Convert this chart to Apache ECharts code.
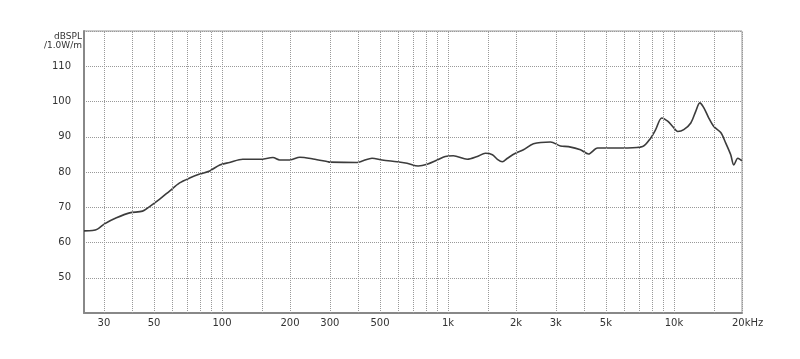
<!DOCTYPE html>
<html>
<head>
<meta charset="utf-8">
<script src="https://cdn.jsdelivr.net/npm/echarts@6/dist/echarts.min.js"></script>
<style>
html,body{margin:0;padding:0;background:#fff;}
#chart{width:800px;height:359px;}
</style>
</head>
<body>
<div id="chart"></div>
<script>
// Frequency response (Hz, dBSPL)
const freqs = [24.5, 26.7, 28.1, 30.2, 34.1, 39.0, 44.5, 47.8, 53.0, 58.6, 64.9, 71.9, 79.6, 88.2, 97.7,
  108, 123.5, 147, 168, 180, 200, 221, 253, 294, 300, 396, 421, 461, 511, 595, 659, 738, 809, 896,
  972, 1055, 1217, 1348, 1463, 1572, 1654, 1740, 1833, 1988, 2157, 2388, 2840, 3145, 3413, 3857,
  4186, 4589, 5240, 6232, 7266, 7882, 8294, 8826, 9379, 9870, 10390, 11050, 11870, 12480, 13010,
  13560, 14260, 15000, 16110, 16950, 17830, 18390, 19170, 19760, 20000];
const spl = [63.3, 63.4, 63.8, 65.3, 67.0, 68.4, 68.9, 70.2, 72.3, 74.6, 76.9, 78.3, 79.4, 80.3, 82.0,
  82.7, 83.6, 83.6, 84.1, 83.4, 83.4, 84.2, 83.7, 82.9, 82.8, 82.7, 83.2, 83.9, 83.4, 82.9, 82.5, 81.7, 82.2, 83.4,
  84.4, 84.6, 83.6, 84.4, 85.3, 84.9, 83.6, 82.9, 83.9, 85.3, 86.3, 88.0, 88.5, 87.4, 87.2, 86.3,
  85.1, 86.8, 86.8, 86.8, 87.2, 89.6, 92.0, 95.3, 94.4, 92.9, 91.5, 92.0, 93.9, 97.2, 99.6,
  98.2, 95.3, 92.9, 91.2, 88.2, 84.9, 82.0, 83.9, 83.4, 83.3];

// Vertical grid lines and their labels
const gridFreqs = [30, 40, 50, 60, 70, 80, 90, 100, 150, 200, 300, 400, 500, 600, 700, 800, 900,
  1000, 1500, 2000, 3000, 4000, 5000, 6000, 7000, 8000, 9000, 10000, 15000, 20000];
const xTickFreqs = [30, 50, 100, 200, 300, 500, 1000, 2000, 3000, 5000, 10000, 20000];
const xTickLabels = ['30', '50', '100', '200', '300', '500', '1k', '2k', '3k', '5k', '10k', '20kHz'];
const yLabels = [50, 60, 70, 80, 90, 100, 110];

const chart = echarts.init(document.getElementById('chart'));
const fontFam = 'DejaVu Sans';

const markData = gridFreqs.map(f => {
  const i = xTickFreqs.indexOf(f);
  const item = { xAxis: f };
  if (i >= 0) {
    const isLast = f === 20000;
    item.label = {
      show: true,
      position: 'start',
      formatter: xTickLabels[i],
      distance: 5,
      color: '#333',
      fontSize: 10,
      fontFamily: fontFam,
      align: isLast ? 'left' : 'center',
      offset: isLast ? [-10, 0] : [0, 0]
    };
  } else {
    item.label = { show: false };
  }
  return item;
});

chart.setOption({
  backgroundColor: '#fff',
  animation: false,
  grid: { left: 84, right: 58, top: 31, bottom: 46, show: true, borderColor: '#999', borderWidth: 1 },
  xAxis: {
    type: 'log',
    logBase: 10,
    min: 24.5,
    max: 20000,
    axisLine: { show: true, lineStyle: { color: '#888', width: 2 } },
    axisTick: { show: false },
    axisLabel: { show: false },
    splitLine: { show: false },
    minorSplitLine: { show: false }
  },
  yAxis: {
    type: 'value',
    min: 40,
    max: 120,
    interval: 10,
    name: 'dBSPL\n/1.0W/m',
    nameLocation: 'end',
    nameGap: -1,
    nameTextStyle: { align: 'right', verticalAlign: 'top', padding: [0, 2, 0, 0], fontSize: 9, lineHeight: 9, color: '#333', fontFamily: fontFam },
    axisLine: { show: true, lineStyle: { color: '#888', width: 2 } },
    axisTick: { show: false },
    axisLabel: {
      margin: 13,
      color: '#333',
      fontSize: 10,
      fontFamily: fontFam,
      formatter: v => (yLabels.indexOf(v) >= 0 ? String(v) : '')
    },
    splitLine: { show: true, lineStyle: { type: 'dotted', color: '#999', width: 1 } }
  },
  series: [
    {
      type: 'line',
      data: [],
      z: 1,
      silent: true,
      markLine: {
        silent: true,
        symbol: 'none',
        animation: false,
        lineStyle: { type: 'dotted', color: '#999', width: 1 },
        emphasis: { disabled: true },
        data: markData
      }
    },
    {
      type: 'line',
      z: 3,
      data: freqs.map((f, i) => [f, spl[i]]),
      showSymbol: false,
      smooth: 0.3,
      lineStyle: { color: '#3c3c3c', width: 1.6 },
      itemStyle: { color: '#3c3c3c' }
    }
  ]
});
</script>
</body>
</html>
